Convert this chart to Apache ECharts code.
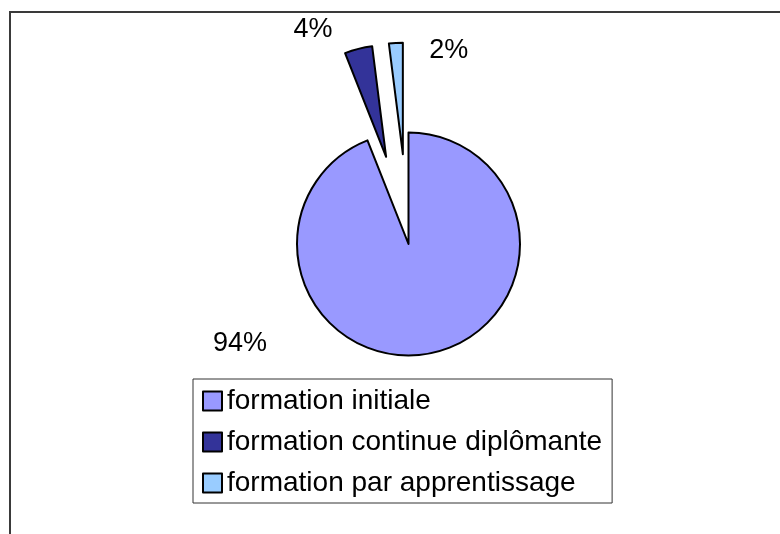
<!DOCTYPE html>
<html>
<head>
<meta charset="utf-8">
<script src="https://cdn.jsdelivr.net/npm/echarts@6/dist/echarts.min.js"></script>
<style>
  html, body { margin: 0; padding: 0; background: #fff; }
  #chart { width: 780px; height: 534px; }
</style>
</head>
<body>
<div id="chart"></div>
<script>
// données du graphique
const categories = ['formation initiale', 'formation continue diplômante', 'formation par apprentissage'];
const values = [94, 4, 2];
const colors = ['#9999FF', '#333399', '#99CCFF'];
const exploded = [false, true, true];

const chart = echarts.init(document.getElementById('chart'));

// réglage des étiquettes : longueurs du trait (invisible) pour placer le texte
const labelLines = [{ length: 15, length2: 15 }, { length: 19.5, length2: 16 }, { length: -8, length2: -77 }];

chart.setOption({
  animation: false,
  backgroundColor: '#fff',
  textStyle: { fontFamily: 'Liberation Sans, Arial, sans-serif' },
  graphic: [
    {
      type: 'rect',
      shape: { x: 10, y: 12, width: 900, height: 700 },
      style: { fill: 'none', stroke: '#3a3a3a', lineWidth: 2 },
      silent: true
    }
  ],
  legend: {
    orient: 'vertical',
    left: 193,
    top: 379,
    padding: [8, 10, 6, 9],
    itemGap: 13,
    itemWidth: 19,
    itemHeight: 19,
    icon: 'rect',
    borderColor: '#333',
    borderWidth: 1,
    selectedMode: false,
    itemStyle: { borderColor: '#000', borderWidth: 2 },
    textStyle: { fontSize: 28, color: '#000', fontFamily: 'Liberation Sans, Arial, sans-serif' },
    data: categories
  },
  series: [
    {
      type: 'pie',
      center: [408.5, 244],
      radius: 111.5,
      startAngle: 90,
      clockwise: true,
      selectedMode: 'multiple',
      selectedOffset: 90,
      avoidLabelOverlap: false,
      emphasis: { disabled: true },
      itemStyle: { borderColor: '#000', borderWidth: 2 },
      select: { itemStyle: { borderColor: '#000', borderWidth: 2 } },
      label: {
        show: true,
        position: 'outside',
        fontSize: 27,
        color: '#000',
        formatter: p => Math.round(p.percent) + '%'
      },
      labelLine: { show: false },
      // l'étiquette de la grande part est placée à gauche, comme dans le modèle
      labelLayout: params => params.dataIndex === 0
        ? { x: 240, y: 344, align: 'center', verticalAlign: 'middle' }
        : {},
      data: categories.map((name, i) => ({
        name: name,
        value: values[i],
        selected: exploded[i],
        itemStyle: { color: colors[i] },
        labelLine: { show: false, length: labelLines[i].length, length2: labelLines[i].length2 }
      }))
    }
  ]
});
</script>
</body>
</html>
